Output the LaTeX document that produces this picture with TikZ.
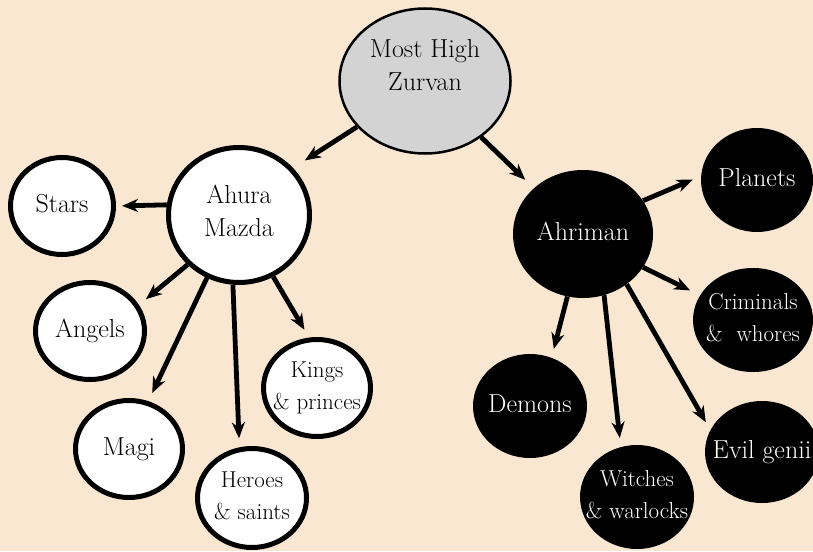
\documentclass[tikz,border=0pt]{standalone}
\usetikzlibrary{shapes.geometric,arrows.meta}

\definecolor{parchment}{HTML}{F9E7D2}
\definecolor{mistgray}{HTML}{D3D3D3}

% centred label that does not stretch the ellipse around it
\newcommand{\ltext}[2][0pt]{\smash{\makebox[0pt]{\raisebox{\dimexpr#1-.25em\relax}{\begin{tabular}{@{}c@{}}#2\end{tabular}}}}}

\begin{document}
\begin{tikzpicture}[x=1pt, y=-1pt,
    light/.style={ellipse, draw, line width=5pt, fill=white, inner sep=0pt},
    dark/.style={ellipse, fill=black, text=white, inner sep=0pt},
    big/.style={font=\fontsize{26}{33}\selectfont},
    small/.style={font=\fontsize{23}{32}\selectfont},
    link/.style={line width=4.8pt, -{Stealth[length=16pt,width=13pt,inset=5pt]}, shorten >=9pt}]
    \useasboundingbox[fill=parchment] (0,0) rectangle (813,551);

    % the high god
    \node[ellipse, draw, line width=2.5pt, fill=mistgray, inner sep=0pt,
          minimum width=171pt, minimum height=145pt, big] (zurvan) at (425,81)
          {\ltext[14pt]{Most High\\Zurvan}};

    % good side
    \node[light, big, minimum width=141pt, minimum height=135pt] (ahura) at (239,215) {\ltext[2pt]{Ahura\\Mazda}};
    \node[light, big, minimum width=103pt, minimum height=97pt] (stars) at (62,206) {\ltext{Stars}};
    \node[light, big, minimum width=109pt, minimum height=97pt] (angels) at (90,331) {\ltext{Angels}};
    \node[light, big, minimum width=107pt, minimum height=97pt] (magi) at (129,449) {\ltext{Magi}};
    \node[light, small, minimum width=109pt, minimum height=99pt] (heroes) at (252,498) {\ltext{Heroes\\\& saints}};
    \node[light, small, minimum width=107pt, minimum height=97pt] (kings) at (317,388) {\ltext{Kings\\\& princes}};

    % evil side
    \node[dark, big, minimum width=140pt, minimum height=128pt] (ahriman) at (583,234) {\ltext{Ahriman}};
    \node[dark, big, minimum width=112pt, minimum height=104pt] (planets) at (757,180) {\ltext{Planets}};
    \node[dark, small, minimum width=120pt, minimum height=104pt] (criminals) at (753,320) {\ltext{Criminals\\\&\ \ whores}};
    \node[dark, big, minimum width=114pt, minimum height=104pt] (demons) at (530,406) {\ltext{Demons}};
    \node[dark, small, minimum width=114pt, minimum height=104pt] (witches) at (637,497) {\ltext{Witches\\\& warlocks}};
    \node[dark, big, minimum width=114pt, minimum height=102pt] (genii) at (762,452) {\ltext{Evil genii}};

    \draw[link, shorten >=14pt] (zurvan.214) -- (ahura.41);
    \draw[link, shorten >=12pt] (zurvan.-45) -- (ahriman.137);

    \draw[link, shorten >=6pt] (ahura.172) -- (stars.0);
    \draw[link] (ahura.224) -- (angels.28);
    \draw[link] (ahura.243) -- (magi.68);
    \draw[link] (ahura.265) -- (heroes.104);
    \draw[link] (ahura.299) -- (kings.99);

    \draw[link] (ahriman.29) -- (planets.176);
    \draw[link, shorten >=11pt] (ahriman.-29) -- (criminals.155);
    \draw[link] (ahriman.256) -- (demons.66);
    \draw[link] (ahriman.289) -- (witches.108);
    \draw[link] (ahriman.311) -- (genii.157);
\end{tikzpicture}
\end{document}
